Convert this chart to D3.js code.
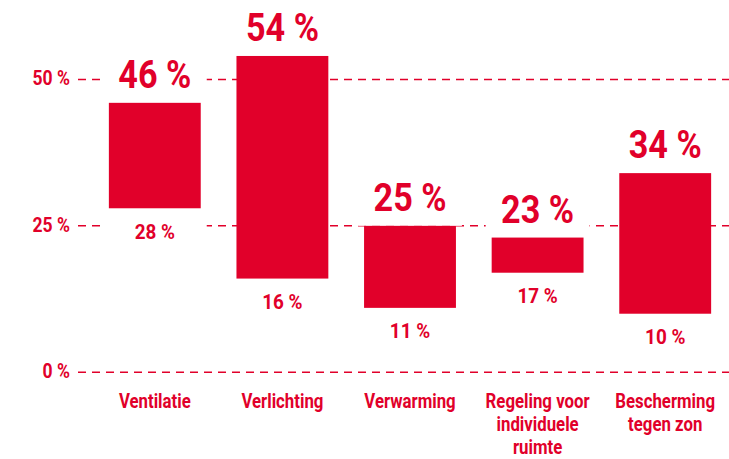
<!DOCTYPE html>
<html><head><meta charset="utf-8">
<script src="https://cdn.jsdelivr.net/npm/d3@7"></script>
<style>
body{margin:0;background:#fff;}
text{font-family:Roboto,"DejaVu Sans Condensed",sans-serif;font-weight:bold;fill:#E1002A;}
</style></head>
<body><svg id="c" width="729" height="459"></svg>
<script>
const categories = [["Ventilatie"],["Verlichting"],["Verwarming"],["Regeling voor","individuele","ruimte"],["Bescherming","tegen zon"]];
const highValues = [46, 54, 25, 23, 34];
const lowValues = [28, 16, 11, 17, 10];
const yTicks = [0, 25, 50];
const RED = "#E1002A";
const NUM_SX = 0.9, CAT_SX = 0.8;

const svg = d3.select("#c");
const y = d3.scaleLinear().domain([0, 50]).range([372.3, 79.4]);
const x = d3.scaleBand().domain(d3.range(categories.length)).range([91, 729]).paddingInner(0.28).paddingOuter(0.14);
const bw = x.bandwidth();
const fmt = v => v + " %";

function label(parent, tx, ty, size, anchor, sx, txt) {
  return parent.append("text")
    .attr("transform", `translate(${tx},${ty}) scale(${sx},1)`)
    .attr("text-anchor", anchor).attr("font-size", size)
    .text(txt);
}

// grid lines
svg.append("g").selectAll("line").data(yTicks).join("line")
  .attr("x1", 78).attr("x2", 729)
  .attr("y1", d => y(d)).attr("y2", d => y(d))
  .attr("stroke", RED).attr("stroke-width", 1.5).attr("stroke-dasharray", "8,6");

// y tick labels
const yg = svg.append("g");
yTicks.forEach(t => label(yg, 70, y(t) + 6, 19.5, "end", NUM_SX, fmt(t)));

const g = svg.append("g").selectAll("g").data(categories.map((c, i) => i)).join("g");

// white masks behind labels
g.append("rect")
  .attr("x", i => x(i) - 6).attr("width", bw + 12)
  .attr("y", i => y(highValues[i]) - 50).attr("height", 50)
  .attr("fill", "#fff");
g.append("rect")
  .attr("x", i => x(i) - 6).attr("width", bw + 12)
  .attr("y", i => y(lowValues[i])).attr("height", 38)
  .attr("fill", "#fff");

// bars
g.append("rect")
  .attr("x", i => x(i)).attr("width", bw)
  .attr("y", i => y(highValues[i]))
  .attr("height", i => y(lowValues[i]) - y(highValues[i]))
  .attr("fill", RED);

g.each(function(i) {
  const s = d3.select(this);
  const cx = x(i) + bw / 2;
  label(s, cx, y(highValues[i]) - 15, 38, "middle", NUM_SX, fmt(highValues[i]));
  label(s, cx, y(lowValues[i]) + 30.5, 21, "middle", NUM_SX, fmt(lowValues[i]));
  categories[i].forEach((line, k) => label(s, cx, 408 + k * 23, 21, "middle", CAT_SX, line));
});
</script></body></html>
